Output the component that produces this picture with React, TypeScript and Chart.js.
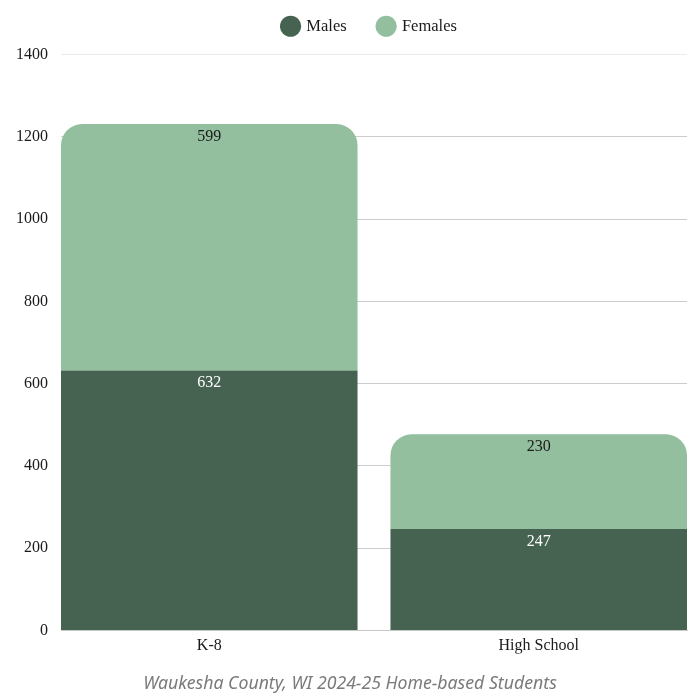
import { useEffect, useRef } from "react";
import { Chart, registerables, type Plugin } from "chart.js";

Chart.register(...registerables);

const categories = ["K-8", "High School"];
const males = [632, 247];
const females = [599, 230];
const yTicks = [0, 200, 400, 600, 800, 1000, 1200, 1400];

const DARK = "#466352";
const LIGHT = "#93bf9f";
const SERIF = "'Liberation Serif', serif";

// values printed just under the top edge of each segment
const segmentLabels: Plugin<"bar"> = {
  id: "segmentLabels",
  afterDatasetsDraw(chart) {
    const ctx = chart.ctx;
    ctx.save();
    ctx.font = `16px ${SERIF}`;
    ctx.textAlign = "center";
    ctx.textBaseline = "middle";
    chart.data.datasets.forEach((ds, di) => {
      const meta = chart.getDatasetMeta(di);
      ctx.fillStyle = di === 0 ? "#ffffff" : "#1a1a1a";
      meta.data.forEach((el, i) => {
        const v = (ds.data[i] as { y: number }).y;
        ctx.fillText(String(v), el.x, el.y + 12.5);
      });
    });
    ctx.restore();
  },
};

// shift a box sideways when drawn
function nudge(box: any, dx: number) {
  if (!box) return;
  const draw = box.draw;
  box.draw = function () {
    const ctx = this.ctx;
    ctx.save();
    ctx.translate(dx, 0);
    draw.call(this);
    ctx.restore();
  };
}

// legend: extra room below, centred over the plot; caption centred on the page
const boxTweaks: Plugin<"bar"> = {
  id: "boxTweaks",
  beforeInit(chart) {
    const legend = chart.legend as any;
    if (legend) {
      const fit = legend.fit;
      legend.fit = function () {
        fit.call(this);
        this.height += 10;
      };
      nudge(legend, 25);
    }
    nudge((chart as any).titleBlock, 5);
  },
};

export default function App() {
  const canvasRef = useRef<HTMLCanvasElement>(null);

  useEffect(() => {
    document.body.style.margin = "0";
    if (!canvasRef.current) return;
    const chart = new Chart(canvasRef.current, {
      type: "bar",
      data: {
        datasets: [
          {
            label: "Males",
            data: males.map((y, i) => ({ x: i, y })),
            backgroundColor: DARK,
            borderRadius: 0,
          },
          {
            label: "Females",
            data: females.map((y, i) => ({ x: i, y })),
            backgroundColor: LIGHT,
            borderRadius: { topLeft: 21, topRight: 21, bottomLeft: 0, bottomRight: 0 },
            borderSkipped: false,
          },
        ],
      },
      options: {
        animation: false,
        responsive: true,
        maintainAspectRatio: false,
        datasets: { bar: { categoryPercentage: 1, barPercentage: 0.9 } },
        layout: { padding: { left: 3, right: 13, top: -14, bottom: 4 } },
        scales: {
          x: {
            type: "linear",
            stacked: true,
            min: -0.45,
            max: 1.45,
            offset: false,
            afterBuildTicks: (axis) => {
              axis.ticks = categories.map((_, i) => ({ value: i }));
            },
            ticks: {
              color: "#1a1a1a",
              font: { family: SERIF, size: 16 },
              padding: -2,
              callback: (v) => categories[Number(v)] ?? "",
            },
            grid: { display: false },
            border: { display: true, color: "#c8c8c8" },
          },
          y: {
            stacked: true,
            min: 0,
            max: 1400,
            afterBuildTicks: (axis) => {
              axis.ticks = yTicks.map((value) => ({ value }));
            },
            ticks: {
              color: "#1a1a1a",
              font: { family: SERIF, size: 16 },
              padding: 13,
              callback: (v) => String(v),
            },
            grid: {
              color: (c) => (c.tick && c.tick.value === 1400 ? "#ebebeb" : "#cccccc"),
              drawTicks: false,
            },
            border: { display: false },
          },
        },
        plugins: {
          legend: {
            position: "top",
            labels: {
              usePointStyle: true,
              pointStyle: "circle",
              boxWidth: 15,
              boxHeight: 15,
              padding: 32,
              color: "#1a1a1a",
              font: { family: SERIF, size: 16.5 },
            },
          },
          title: {
            display: true,
            position: "bottom",
            text: "Waukesha County, WI 2024-25 Home-based Students",
            color: "#7a7a7a",
            font: { family: "'Noto Sans', sans-serif", size: 17.7, style: "italic", weight: "normal" },
            padding: { top: 20, bottom: 1 },
          },
          tooltip: { enabled: false },
        },
      },
      plugins: [segmentLabels, boxTweaks],
    });
    return () => chart.destroy();
  }, []);

  return (
    <div style={{ position: "relative", width: 700, height: 700 }}>
      <canvas ref={canvasRef} />
    </div>
  );
}
